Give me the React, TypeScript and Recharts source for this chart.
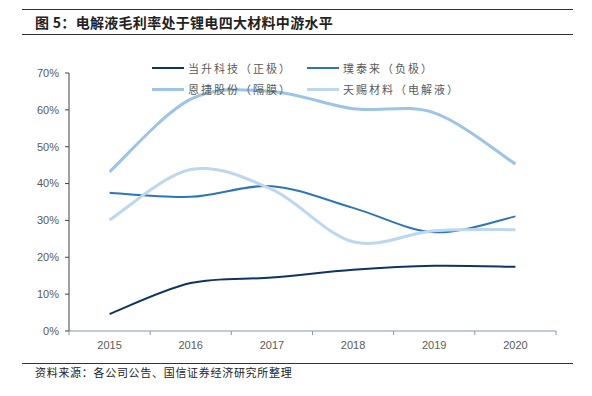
import { LineChart, Line, XAxis, YAxis } from "recharts";

const years = ["2015", "2016", "2017", "2018", "2019", "2020"];
const dangsheng = [4.6, 13.0, 14.5, 16.6, 17.7, 17.4];
const putailai = [37.5, 36.4, 39.3, 33.4, 26.8, 31.1];
const enjie = [43.2, 62.9, 65.0, 60.3, 59.2, 45.3];
const tianci = [30.1, 43.8, 38.4, 24.2, 27.2, 27.5];
const yTicks = [0, 10, 20, 30, 40, 50, 60, 70];

const series = [
  { key: "ds", name: "当升科技（正极）", color: "#0E3466", width: 2 },
  { key: "ptl", name: "璞泰来（负极）", color: "#2E75B6", width: 2 },
  { key: "ej", name: "恩捷股份（隔膜）", color: "#9DC3E6", width: 3 },
  { key: "tc", name: "天赐材料（电解液）", color: "#BDD7EE", width: 3 },
];

const data = years.map((y, i) => ({
  year: y,
  ds: dangsheng[i],
  ptl: putailai[i],
  ej: enjie[i],
  tc: tianci[i],
}));

// Excel-style smoothed line (Catmull-Rom through the points)
const excelSmooth = (context: any) => {
  let pts: number[][] = [];
  return {
    areaStart() {},
    areaEnd() {},
    lineStart() {
      pts = [];
    },
    point(x: number, y: number) {
      pts.push([+x, +y]);
    },
    lineEnd() {
      if (!pts.length) return;
      context.moveTo(pts[0][0], pts[0][1]);
      for (let i = 0; i < pts.length - 1; i++) {
        const p0 = pts[Math.max(i - 1, 0)];
        const p1 = pts[i];
        const p2 = pts[i + 1];
        const p3 = pts[Math.min(i + 2, pts.length - 1)];
        context.bezierCurveTo(
          p1[0] + (p2[0] - p0[0]) / 6,
          p1[1] + (p2[1] - p0[1]) / 6,
          p2[0] - (p3[0] - p1[0]) / 6,
          p2[1] - (p3[1] - p1[1]) / 6,
          p2[0],
          p2[1]
        );
      }
    },
  };
};

const XTick = (props: any) => {
  const { x, y, payload, index } = props;
  const half = payload.offset || 0;
  return (
    <g>
      <line x1={x - half} y1={y - 8} x2={x - half} y2={y - 4} stroke="#8497B0" />
      {index === years.length - 1 && (
        <line x1={x + half} y1={y - 8} x2={x + half} y2={y - 4} stroke="#8497B0" />
      )}
      <text x={x} y={y + 10} textAnchor="middle" fill="#595959" fontSize={11}>
        {payload.value}
      </text>
    </g>
  );
};

const LegendBox = () => (
  <div
    style={{
      position: "absolute",
      left: 152,
      top: 59,
      display: "grid",
      gridTemplateColumns: "155px 200px",
      rowGap: 3,
      fontFamily: '"Noto Sans CJK SC", sans-serif',
      fontSize: 11,
      color: "#595959",
      letterSpacing: 2,
    }}
  >
    {series.map((s) => (
      <div key={s.key} style={{ display: "flex", alignItems: "center", height: 18 }}>
        <span
          style={{
            display: "inline-block",
            width: 32,
            height: s.width,
            background: s.color,
            marginRight: 4,
          }}
        />
        {s.name}
      </div>
    ))}
  </div>
);

export default function App() {
  return (
    <div
      style={{
        position: "absolute",
        left: 0,
        top: 0,
        width: 592,
        height: 396,
        background: "#fff",
        fontFamily: '"Liberation Sans", Arial, sans-serif',
      }}
    >
      <div style={{ position: "absolute", left: 22, top: 9, width: 551, height: 0, borderTop: "1px solid #333" }} />
      <div
        style={{
          position: "absolute",
          left: 35,
          top: 12,
          fontFamily: '"Noto Sans CJK SC", sans-serif',
          fontWeight: 700,
          fontSize: 14,
          letterSpacing: 0.3,
          color: "#222",
        }}
      >
        图 5：电解液毛利率处于锂电四大材料中游水平
      </div>
      <div style={{ position: "absolute", left: 22, top: 34, width: 551, height: 0, borderTop: "1px solid #333" }} />

      <LineChart
        width={592}
        height={396}
        data={data}
        margin={{ top: 73, right: 36, bottom: 35, left: 9 }}
      >
        <XAxis
          dataKey="year"
          scale="band"
          stroke="#8497B0"
          tickLine={false}
          tick={<XTick />}
          height={30}
          interval={0}
        />
        <YAxis
          domain={[0, 70]}
          ticks={yTicks}
          width={60}
          stroke="#404040"
          tickSize={4}
          tickMargin={6}
          tick={{ fill: "#595959", fontSize: 11 }}
          tickFormatter={(v: number) => `${v}%`}
        />
        {series.map((s) => (
          <Line
            key={s.key}
            dataKey={s.key}
            name={s.name}
            type={excelSmooth as any}
            stroke={s.color}
            strokeWidth={s.width}
            dot={false}
            activeDot={false}
            isAnimationActive={false}
          />
        ))}
      </LineChart>

      <LegendBox />

      <div style={{ position: "absolute", left: 22, top: 363, width: 551, height: 0, borderTop: "1px solid #333" }} />
      <div
        style={{
          position: "absolute",
          left: 35,
          top: 364,
          fontFamily: '"Noto Sans CJK SC", sans-serif',
          fontSize: 11,
          letterSpacing: 0.7,
          color: "#222",
        }}
      >
        资料来源：各公司公告、国信证券经济研究所整理
      </div>
    </div>
  );
}
